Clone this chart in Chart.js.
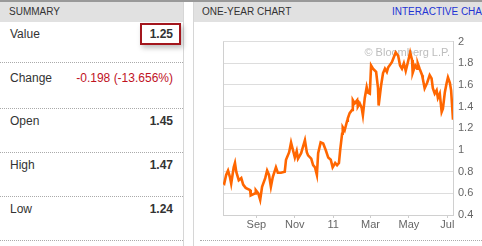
<!DOCTYPE html>
<html>
<head>
<meta charset="utf-8">
<script src="https://cdn.jsdelivr.net/npm/chart.js@4"></script>
<style>
  body { margin: 0; width: 482px; height: 246px; overflow: hidden; background: #fff; position: relative;
         font-family: "Liberation Sans", Arial, sans-serif; color: #333; }
  .abs { position: absolute; }
  .topline { left: 0; top: 0; width: 482px; height: 2px; background: #999; }
  .hdr { top: 2px; height: 20px; line-height: 20px; background: #e1e1e1; font-size: 10px; color: #333; }
  .vline { top: 2px; width: 1px; height: 244px; background: #d6d6d6; }
  .dots { height: 0; border-top: 1px dotted #aaa; }
  .lbl { left: 10px; font-size: 12px; line-height: 14px; }
  .val { right: 309px; font-size: 12px; line-height: 14px; font-weight: bold; text-align: right; white-space: nowrap; }
  .box { left: 140px; top: 23px; width: 37px; height: 18px; border: 2px solid #a3161d;
         box-shadow: 2px 3px 5px rgba(0,0,0,0.25); }
  #chart { left: 200px; top: 30px; }
</style>
</head>
<body>
<div class="abs topline"></div>
<div class="abs hdr" style="left:0;width:183px;padding-left:9px;box-sizing:border-box;">SUMMARY</div>
<div class="abs hdr" style="left:194px;width:288px;padding-left:8px;box-sizing:border-box;white-space:nowrap;overflow:hidden;">ONE-YEAR CHART<span style="position:absolute;left:198px;color:#2233d4;">INTERACTIVE CHART</span></div>
<div class="abs vline" style="left:183px;"></div>
<div class="abs vline" style="left:193px;"></div>

<div class="abs box"></div>
<div class="abs lbl" style="top:27px;">Value</div>
<div class="abs val" style="top:27px;">1.25</div>
<div class="abs dots" style="left:0;width:183px;top:62px;"></div>
<div class="abs lbl" style="top:71px;">Change</div>
<div class="abs val" style="top:71px;font-weight:normal;color:#c0121f;">-0.198 (-13.656%)</div>
<div class="abs dots" style="left:0;width:183px;top:108px;"></div>
<div class="abs lbl" style="top:114px;">Open</div>
<div class="abs val" style="top:114px;">1.45</div>
<div class="abs dots" style="left:0;width:183px;top:152px;"></div>
<div class="abs lbl" style="top:158px;">High</div>
<div class="abs val" style="top:158px;">1.47</div>
<div class="abs dots" style="left:0;width:183px;top:196px;"></div>
<div class="abs lbl" style="top:202px;">Low</div>
<div class="abs val" style="top:202px;">1.24</div>
<div class="abs dots" style="left:0;width:183px;top:240px;"></div>
<div class="abs dots" style="left:200px;width:282px;top:240px;"></div>

<canvas id="chart" class="abs" width="282" height="206"></canvas>

<script>
// days since 10 Jul 2010
const days = [0, 2, 5, 8, 11, 13, 17, 19, 21, 25, 29, 32, 36, 43, 44, 51, 52, 56, 59, 62, 67, 70, 73, 76, 79,
  84, 87, 92, 98, 100, 105, 108, 111, 114, 117, 119, 124, 127, 130, 133, 135, 140, 143, 146, 149, 151, 155,
  159, 163, 167, 171, 174, 178, 181, 184, 186, 189, 190, 193, 197, 198, 201, 205, 206, 209, 213, 214, 217,
  220, 222, 225, 228, 230, 233, 235, 238, 243, 246, 247, 251, 254, 257, 260, 262, 268, 270, 274, 278, 281,
  284, 287, 290, 293, 297, 300, 301, 305, 308, 309, 312, 316, 317, 320, 324, 328, 331, 333, 336, 339, 341,
  344, 347, 349, 352, 355, 357, 360, 362, 365];
const values = [0.70, 0.69, 0.77, 0.81, 0.75, 0.69, 0.84, 0.88, 0.80, 0.72, 0.74, 0.68, 0.65, 0.63, 0.58, 0.60,
  0.63, 0.60, 0.54, 0.66, 0.74, 0.81, 0.77, 0.66, 0.75, 0.84, 0.79, 0.79, 0.80, 0.91, 0.98, 1.07, 1.00, 0.93,
  0.99, 0.92, 0.97, 1.03, 1.09, 0.98, 0.95, 0.92, 0.86, 0.84, 0.77, 0.97, 1.07, 1.06, 1.00, 0.93, 0.91, 0.84,
  0.88, 0.86, 0.88, 1.00, 1.15, 1.21, 1.18, 1.27, 1.29, 1.34, 1.37, 1.46, 1.43, 1.46, 1.40, 1.43, 1.39, 1.32,
  1.48, 1.58, 1.53, 1.52, 1.78, 1.75, 1.72, 1.57, 1.41, 1.60, 1.71, 1.75, 1.72, 1.76, 1.81, 1.84, 1.90, 1.87,
  1.78, 1.75, 1.80, 1.73, 1.80, 1.90, 1.83, 1.71, 1.78, 1.75, 1.80, 1.75, 1.69, 1.66, 1.57, 1.62, 1.69, 1.66,
  1.57, 1.52, 1.55, 1.48, 1.52, 1.35, 1.38, 1.53, 1.62, 1.67, 1.62, 1.55, 1.28];

const monthTicks = [53, 114, 175, 234, 295, 356];
const monthLabels = ['Sep', 'Nov', '11', 'Mar', 'May', 'Jul'];
const yTicks = [0.4, 0.6, 0.8, 1, 1.2, 1.4, 1.6, 1.8, 2];
const yTickLabels = ['0.4', '0.6', '0.8', '1', '1.2', '1.4', '1.6', '1.8', '2'];

const font = { family: '"Liberation Sans", Arial, sans-serif', size: 11 };

const frame = {
  id: 'frame',
  beforeDatasetsDraw(chart) {
    const { ctx, chartArea: a } = chart;
    ctx.save();
    ctx.strokeStyle = '#d0d0d0';
    ctx.lineWidth = 1;
    ctx.beginPath();
    ctx.moveTo(Math.round(a.left) + 0.5, a.top);
    ctx.lineTo(Math.round(a.left) + 0.5, a.bottom);
    ctx.stroke();
    ctx.fillStyle = '#bdbdbd';
    ctx.font = '11px "Liberation Sans", Arial, sans-serif';
    ctx.textAlign = 'right';
    ctx.textBaseline = 'middle';
    ctx.fillText('\u00a9 Bloomberg L.P.', a.right - 3, a.top + 11);
    ctx.restore();
  }
};

new Chart(document.getElementById('chart').getContext('2d'), {
  type: 'line',
  data: {
    datasets: [{
      data: days.map((d, i) => ({ x: d, y: values[i] })),
      borderColor: '#ff6600',
      borderWidth: 2.6,
      pointRadius: 0,
      tension: 0,
      fill: false
    }]
  },
  options: {
    responsive: false,
    animation: false,
    devicePixelRatio: 1,
    layout: { padding: { left: 23, top: 11, right: 0, bottom: 0 } },
    plugins: { legend: { display: false }, tooltip: { enabled: false } },
    scales: {
      x: {
        type: 'linear',
        min: 0,
        max: 365,
        afterBuildTicks: s => { s.ticks = monthTicks.map(v => ({ value: v })); },
        afterFit: s => { s.height = 21; },
        grid: { drawOnChartArea: false, drawTicks: true, tickLength: 3, color: '#cccccc' },
        border: { display: true, color: '#d0d0d0' },
        ticks: {
          autoSkip: false, maxRotation: 0, padding: 0, color: '#666', font,
          callback: (v, i) => monthLabels[i]
        }
      },
      y: {
        position: 'right',
        min: 0.4,
        max: 2,
        afterBuildTicks: s => { s.ticks = yTicks.map(v => ({ value: v })); },
        afterFit: s => { s.width = 29; },
        grid: { color: '#dddddd', drawTicks: false },
        border: { display: true, color: '#d0d0d0' },
        ticks: {
          padding: 5, color: '#666', font,
          callback: (v, i) => yTickLabels[i]
        }
      }
    }
  },
  plugins: [frame]
});
</script>
</body>
</html>
